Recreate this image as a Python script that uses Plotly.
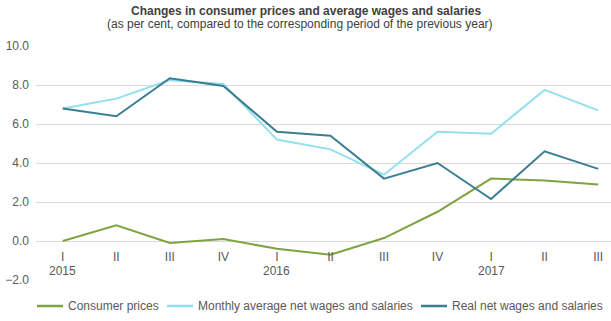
import plotly.graph_objects as go

quarters = ["I", "II", "III", "IV", "I", "II", "III", "IV", "I", "II", "III"]
years = ["2015", "", "", "", "2016", "", "", "", "2017", "", ""]
consumer_prices = [0.0, 0.8, -0.1, 0.1, -0.4, -0.7, 0.15, 1.5, 3.2, 3.1, 2.9]
monthly_wages = [6.8, 7.3, 8.25, 8.05, 5.2, 4.7, 3.4, 5.6, 5.5, 7.75, 6.7]
real_wages = [6.8, 6.4, 8.35, 7.95, 5.6, 5.4, 3.2, 4.0, 2.15, 4.6, 3.7]
series_names = ["Consumer prices", "Monthly average net wages and salaries",
                "Real net wages and salaries"]
series_colors = ["#7FA43F", "#93E0EC", "#3A7E93"]

x = list(range(len(quarters)))

fig = go.Figure()
for name, vals, color in zip(series_names, [consumer_prices, monthly_wages, real_wages],
                             series_colors):
    fig.add_trace(go.Scatter(x=x, y=vals, name=name, mode="lines",
                             line=dict(color=color, width=2), showlegend=False))

font_family = "Liberation Sans, Arial, sans-serif"
L, R, T, B = 36, 0, 46, 41
PW, PH = 611 - L - R, 321 - T - B
ymin, ymax = -2, 10

def px_x(px):
    return (px - L) / PW

def px_y(py):
    return (321 - B - py) / PH

# custom legend (single row, like the reference)
legend_y = 306
legend_starts = [37, 167, 421]
shapes, annotations = [], []
for name, color, x0 in zip(series_names, series_colors, legend_starts):
    shapes.append(dict(type="line", xref="paper", yref="paper",
                       x0=px_x(x0), x1=px_x(x0 + 26), y0=px_y(legend_y), y1=px_y(legend_y),
                       line=dict(color=color, width=2.5)))
    annotations.append(dict(text=name, xref="paper", yref="paper",
                            x=px_x(x0 + 29), y=px_y(legend_y), xanchor="left",
                            yanchor="middle", showarrow=False,
                            font=dict(size=12, color="#595959")))

# year labels under the quarter tick labels
for xi, yr in zip(x, years):
    if yr:
        annotations.append(dict(text=yr, xref="x", yref="paper", x=xi, y=px_y(270.5),
                                xanchor="center", yanchor="middle", showarrow=False,
                                font=dict(size=12, color="#595959")))

annotations += [
    dict(text="<b>Changes in consumer prices and average wages and salaries</b>",
         xref="paper", yref="paper", x=px_x(306), y=px_y(10.5),
         xanchor="center", yanchor="middle", showarrow=False,
         font=dict(size=12, color="#404040")),
    dict(text="(as per cent, compared to the corresponding period of the previous year)",
         xref="paper", yref="paper", x=px_x(300), y=px_y(24),
         xanchor="center", yanchor="middle", showarrow=False,
         font=dict(size=12, color="#404040")),
]

fig.update_layout(
    width=611, height=321,
    margin=dict(l=L, r=R, t=T, b=B, autoexpand=False),
    paper_bgcolor="white", plot_bgcolor="white",
    font=dict(family=font_family, size=12, color="#595959"),
    showlegend=False,
    xaxis=dict(range=[-0.5, 10.24], tickmode="array", tickvals=x, ticktext=quarters,
               anchor="free", position=(0 - ymin) / (ymax - ymin), automargin=False,
               showgrid=False, zeroline=False, showline=False,
               ticks="outside", ticklen=5, tickcolor="rgba(0,0,0,0)",
               tickfont=dict(size=12, color="#595959")),
    yaxis=dict(range=[ymin, ymax], dtick=2, tickformat=".1f", showgrid=True,
               gridcolor="#D9D9D9", gridwidth=1, zeroline=False, showline=False,
               ticks="", ticklabelstandoff=6, automargin=False,
               tickfont=dict(size=12, color="#595959")),
    shapes=shapes,
    annotations=annotations,
)

fig.write_html("out.html")
